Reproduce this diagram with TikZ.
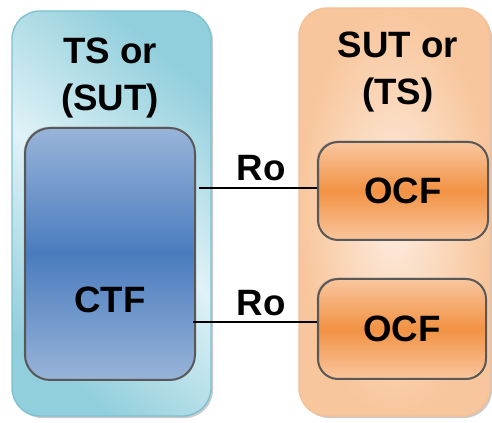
\documentclass[tikz,border=0pt]{standalone}
\usepackage{fontspec}
\setmainfont{Liberation Sans}
\usetikzlibrary{shadows,calc}

\definecolor{tsEdge}{RGB}{125,192,208}
\definecolor{tsIn}{RGB}{224,242,247}
\definecolor{tsOut}{RGB}{146,207,220}
\definecolor{sutEdge}{RGB}{246,192,150}
\definecolor{sutIn}{RGB}{253,237,224}
\definecolor{sutOut}{RGB}{248,198,156}
\definecolor{ctfLight}{RGB}{152,180,216}
\definecolor{ctfDark}{RGB}{74,124,190}
\definecolor{ocfLight}{RGB}{249,198,158}
\definecolor{ocfDark}{RGB}{242,146,68}
\definecolor{boxEdge}{RGB}{88,88,88}

\tikzset{every picture/.style={line width=0.75pt}}
\tikzset{
	big font/.style={font=\fontsize{27.5}{35}\selectfont\bfseries},
	outer box/.style={rectangle, rounded corners=21pt, inner sep=0pt, line width=1pt,
		drop shadow={shadow xshift=1.5pt, shadow yshift=-1.5pt, opacity=0.35, fill=black!60}},
	func box/.style={rectangle, rounded corners=15pt, inner sep=0pt, draw=boxEdge, line width=1.5pt,
		drop shadow={shadow xshift=-1pt, shadow yshift=1pt, opacity=0.3, fill=black!50}},
	ro line/.style={draw=black, line width=1.3pt}}

\begin{document}
\begin{tikzpicture}[x=0.75pt,y=0.75pt,yscale=-1,xscale=1]
	\useasboundingbox (0,0) rectangle (492,423);

	%Shape: Rounded Rectangle [id:ts]
	\node [outer box, draw=tsEdge, top color=tsOut, bottom color=tsOut, middle color=tsIn, shading angle=-40,
		minimum width=149.25pt, minimum height=303.75pt] (ts) at (111.5,213.5) {};
	%Shape: Rounded Rectangle [id:sut]
	\node [outer box, draw=sutEdge, inner color=sutIn, outer color=sutOut,
		minimum width=143.25pt, minimum height=306pt] (sut) at (394.5,212) {};

	%Shape: Rounded Rectangle [id:ctf]
	\node [func box, rounded corners=19pt, top color=ctfLight, bottom color=ctfLight, middle color=ctfDark,
		minimum width=127.5pt, minimum height=189pt] (ctf) at (110,254) {};
	%Shape: Rounded Rectangle [id:ocfa]
	\node [func box, top color=ocfLight, bottom color=ocfLight, middle color=ocfDark,
		minimum width=127.5pt, minimum height=73.5pt] (ocfa) at (403,191) {};
	%Shape: Rounded Rectangle [id:ocfb]
	\node [func box, top color=ocfLight, bottom color=ocfLight, middle color=ocfDark,
		minimum width=126pt, minimum height=75pt] (ocfb) at (402,329) {};

	%Straight Lines [id:roa]
	\draw [ro line] ($(ctf.east |- ocfa.west)+(3,-3)$) -- ($(ocfa.west)+(0,-3)$);
	%Straight Lines [id:rob]
	\draw [ro line] ($(ctf.east |- ocfb.west)+(-3,-7)$) -- ($(ocfb.west)+(0,-7)$);

	% Text Node
	\node [big font, align=center] (tslabel) at (110,78) {TS or\\(SUT)};
	% Text Node
	\node [big font, align=center] (sutlabel) at (398,72) {SUT or\\(TS)};
	% Text Node
	\node [big font] (ctflabel) at (110,300) {CTF};
	% Text Node
	\node [big font] (ocfalabel) at (ocfa) {OCF};
	% Text Node
	\node [big font] (ocfblabel) at (ocfb) {OCF};
	% Text Node
	\node [big font] (roalabel) at (261,168) {Ro};
	% Text Node
	\node [big font] (roblabel) at (261,303) {Ro};

\end{tikzpicture}
\end{document}
